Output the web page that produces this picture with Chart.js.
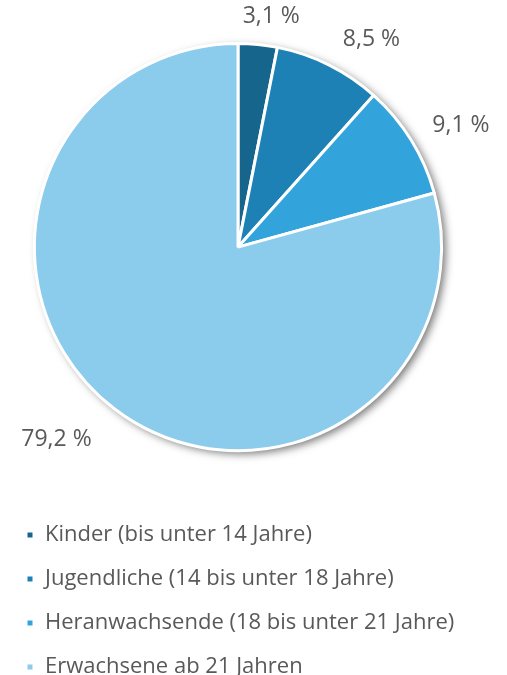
<!DOCTYPE html>
<html>
<head>
<meta charset="utf-8">
<script src="https://cdn.jsdelivr.net/npm/chart.js"></script>
<style>
  html, body { margin: 0; padding: 0; background: #fff; }
  #wrap { width: 507px; height: 675px; }
</style>
</head>
<body>
<div id="wrap"><canvas id="myChart" width="507" height="675"></canvas></div>
<script>
const categories = [
  'Kinder (bis unter 14 Jahre)',
  'Jugendliche (14 bis unter 18 Jahre)',
  'Heranwachsende (18 bis unter 21 Jahre)',
  'Erwachsene ab 21 Jahren'
];
const shares = [3.1, 8.5, 9.1, 79.2];
const sliceColors = ['#16658c', '#1d81b6', '#33a3dc', '#8bcbec'];

// soft shadow behind the whole pie
const pieShadow = {
  id: 'pieShadow',
  beforeDatasetsDraw(chart) {
    const arc = chart.getDatasetMeta(0).data[0];
    if (!arc) return;
    const ctx = chart.ctx;
    ctx.save();
    ctx.shadowColor = 'rgba(0,0,0,0.55)';
    ctx.shadowBlur = 9;
    ctx.shadowOffsetX = 4;
    ctx.shadowOffsetY = 3;
    ctx.fillStyle = '#fff';
    ctx.beginPath();
    ctx.arc(arc.x, arc.y, arc.outerRadius, 0, Math.PI * 2);
    ctx.fill();
    ctx.restore();
  }
};

// percentage labels outside the slices
const outsideLabels = {
  id: 'outsideLabels',
  afterDatasetsDraw(chart) {
    const ctx = chart.ctx;
    const meta = chart.getDatasetMeta(0);
    ctx.save();
    ctx.font = '23px "Open Sans"';
    ctx.fillStyle = '#595959';
    ctx.textAlign = 'center';
    ctx.textBaseline = 'middle';
    meta.data.forEach((arc, i) => {
      const mid = (arc.startAngle + arc.endAngle) / 2;
      const dx = Math.cos(mid), dy = Math.sin(mid);
      const text = shares[i].toFixed(1).replace('.', ',') + ' %';
      const w = ctx.measureText(text).width;
      const d = arc.outerRadius + 18 + (dy > 0 ? 10 : 0);
      const x = arc.x + dx * d + Math.sign(dx) * Math.min(w / 2 + 6, Math.abs(dx) * 120);
      const y = arc.y + dy * d + dy * 10;
      ctx.fillText(text, x, y);
    });
    ctx.restore();
  }
};

const data = {
  labels: categories,
  datasets: [{
    data: shares,
    backgroundColor: sliceColors,
    borderColor: '#ffffff',
    borderWidth: 3
  }]
};

const config = {
  type: 'pie',
  data: data,
  plugins: [pieShadow, outsideLabels],
  options: {
    responsive: false,
    animation: false,
    layout: { padding: { top: 42, left: 4, right: 35, bottom: -13 } },
    plugins: {
      tooltip: { enabled: false },
      legend: {
        position: 'bottom',
        align: 'start',
        title: { display: true, text: ' ', padding: { top: 23, bottom: 10 }, font: { size: 14 } },
        labels: {
          boxWidth: 8,
          boxHeight: 8,
          padding: 22,
          color: '#595959',
          font: { family: 'Open Sans', size: 22 }
        }
      }
    }
  }
};

document.addEventListener('DOMContentLoaded', () => {
  new Chart(document.querySelector('#myChart'), config);
});
</script>
</body>
</html>
